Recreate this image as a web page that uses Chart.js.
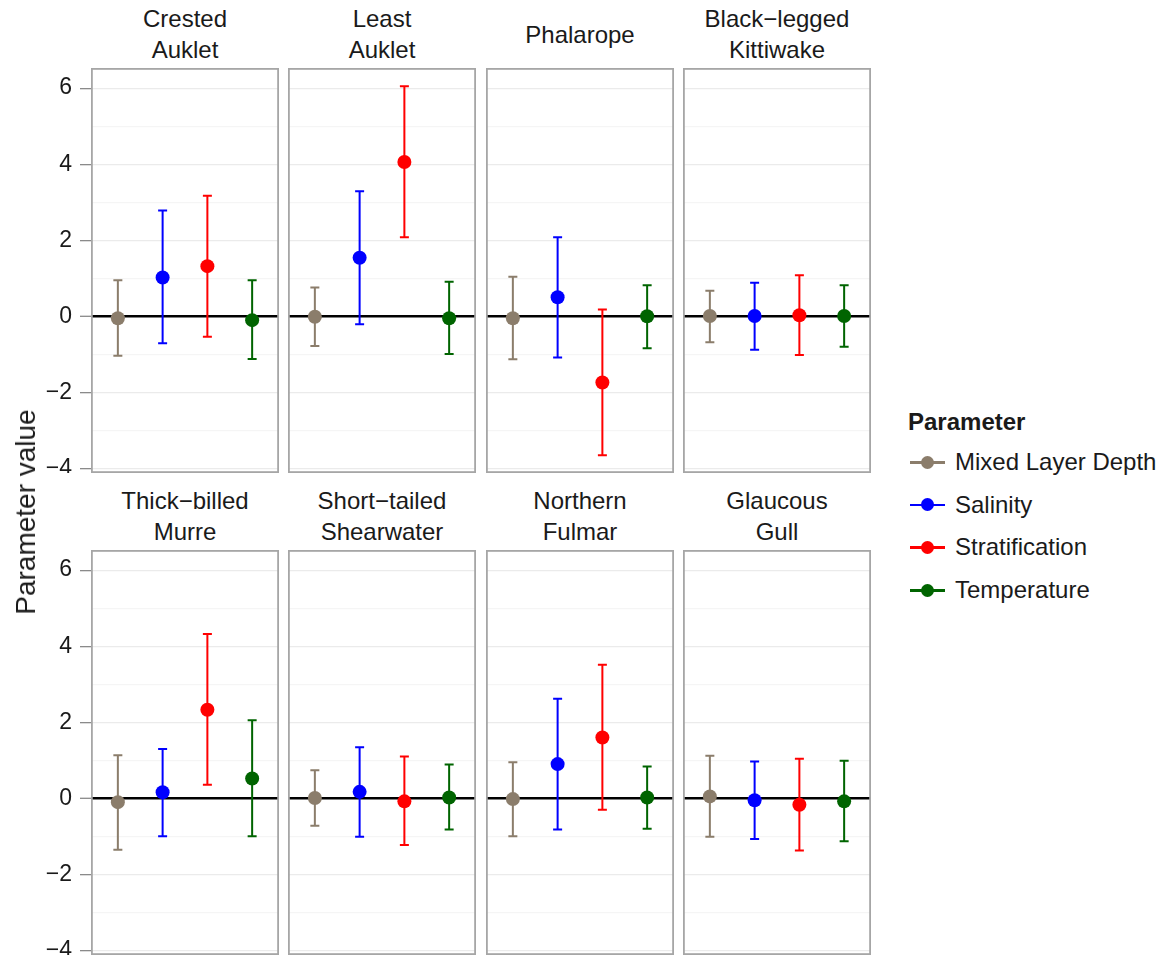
<!DOCTYPE html>
<html>
<head>
<meta charset="utf-8">
<script src="https://cdn.jsdelivr.net/npm/chart.js@4.4.1/dist/chart.umd.min.js"></script>
<style>
  body { margin: 0; background: #fff; font-family: "Liberation Sans", Arial, sans-serif; color: #1a1a1a; }
  #page { position: relative; width: 1164px; height: 961px; overflow: hidden; }
  .panel { position: absolute; }
  .strip { position: absolute; height: 62px; display: flex; align-items: center; justify-content: center;
           text-align: center; font-size: 24px; line-height: 31px; white-space: pre-line; }
  .ytitle { position: absolute; left: 26px; top: 512px; font-size: 28px; white-space: nowrap;
            transform: translate(-50%, -50%) rotate(-90deg); }
  .legend-title { position: absolute; left: 908px; top: 408px; font-size: 24px; font-weight: bold; }
  .legend-item { position: absolute; left: 910px; height: 28px; display: flex; align-items: center; font-size: 24px; }
  .key { position: relative; width: 35px; height: 28px; margin-right: 10px; }
  .key .ln { position: absolute; left: 0; right: 0; top: 13px; height: 2.5px; }
  .key .dot { position: absolute; left: 11px; top: 7.5px; width: 13px; height: 13px; border-radius: 50%; }
</style>
</head>
<body>
<div id="page"></div>
<script>
// facets, top row then bottom row
const speciesNames = [
  'Crested\nAuklet', 'Least\nAuklet', 'Phalarope', 'Black−legged\nKittiwake',
  'Thick−billed\nMurre', 'Short−tailed\nShearwater', 'Northern\nFulmar', 'Glaucous\nGull'
];
const parameterNames = ['Mixed Layer Depth', 'Salinity', 'Stratification', 'Temperature'];
const parameterColors = ['#8b7d6b', '#0000ff', '#ff0000', '#006400'];

// estimates with lower / upper interval per species
const mldMean  = [-0.05, -0.01, -0.05,  0.01, -0.10,  0.01, -0.02,  0.05];
const mldLower = [-1.04, -0.78, -1.13, -0.68, -1.35, -0.72, -1.00, -1.01];
const mldUpper = [ 0.95,  0.76,  1.04,  0.67,  1.13,  0.74,  0.95,  1.12];

const salMean  = [ 1.02,  1.54,  0.50,  0.01,  0.16,  0.17,  0.90, -0.05];
const salLower = [-0.71, -0.21, -1.08, -0.88, -1.00, -1.01, -0.82, -1.07];
const salUpper = [ 2.78,  3.29,  2.08,  0.88,  1.30,  1.34,  2.62,  0.97];

const stratMean  = [ 1.32,  4.06, -1.74,  0.03,  2.33, -0.08,  1.60, -0.17];
const stratLower = [-0.54,  2.08, -3.65, -1.02,  0.36, -1.23, -0.30, -1.37];
const stratUpper = [ 3.17,  6.05,  0.18,  1.08,  4.32,  1.10,  3.51,  1.04];

const tempMean  = [-0.10, -0.05,  0.00,  0.01,  0.52,  0.02,  0.02, -0.08];
const tempLower = [-1.12, -0.99, -0.84, -0.80, -1.00, -0.82, -0.80, -1.13];
const tempUpper = [ 0.95,  0.91,  0.82,  0.82,  2.05,  0.89,  0.84,  0.99];

const yTicks = [-4, -3, -2, -1, 0, 1, 2, 3, 4, 5, 6];
const yLabels = ['−4', '', '−2', '', '0', '', '2', '', '4', '', '6'];

const series = [
  { mean: mldMean, lower: mldLower, upper: mldUpper },
  { mean: salMean, lower: salLower, upper: salUpper },
  { mean: stratMean, lower: stratLower, upper: stratUpper },
  { mean: tempMean, lower: tempLower, upper: tempUpper }
];

// panel geometry
const colLeft = [91, 288, 486, 683];
const rowTop = [68, 550];
const plotW = 188, plotH = 405;

const page = document.getElementById('page');

// whiskers under the points, grey frame on top
const errorBars = {
  id: 'errorBars',
  beforeDatasetsDraw(chart) {
    const ctx = chart.ctx;
    const y = chart.scales.y;
    chart.data.datasets.forEach((ds, d) => {
      chart.getDatasetMeta(d).data.forEach((pt, j) => {
        const top = y.getPixelForValue(ds.upper[j]);
        const bot = y.getPixelForValue(ds.lower[j]);
        ctx.save();
        ctx.strokeStyle = ds.borderColor;
        ctx.lineWidth = 2;
        ctx.beginPath();
        ctx.moveTo(pt.x, top); ctx.lineTo(pt.x, bot);
        ctx.moveTo(pt.x - 4.5, top); ctx.lineTo(pt.x + 4.5, top);
        ctx.moveTo(pt.x - 4.5, bot); ctx.lineTo(pt.x + 4.5, bot);
        ctx.stroke();
        ctx.restore();
      });
    });
  },
  afterDraw(chart) {
    const { left, top, right, bottom } = chart.chartArea;
    const ctx = chart.ctx;
    ctx.save();
    ctx.strokeStyle = '#a6a6a6';
    ctx.lineWidth = 1.8;
    ctx.strokeRect(left + 0.9, top + 0.9, right - left - 1.8, bottom - top - 1.8);
    ctx.restore();
  }
};

speciesNames.forEach((name, i) => {
  const row = Math.floor(i / 4), col = i % 4;
  const first = col === 0;
  const left = first ? 0 : colLeft[col];
  const width = first ? colLeft[0] + plotW : plotW;

  const strip = document.createElement('div');
  strip.className = 'strip';
  strip.style.left = colLeft[col] + 'px';
  strip.style.width = plotW + 'px';
  strip.style.top = (rowTop[row] - 65) + 'px';
  strip.textContent = name;
  page.appendChild(strip);

  const canvas = document.createElement('canvas');
  canvas.className = 'panel';
  canvas.width = width;
  canvas.height = plotH;
  canvas.style.left = left + 'px';
  canvas.style.top = rowTop[row] + 'px';
  page.appendChild(canvas);

  new Chart(canvas, {
    type: 'scatter',
    data: {
      datasets: series.map((s, k) => ({
        label: parameterNames[k],
        data: [{ x: k + 1, y: s.mean[i] }],
        lower: [s.lower[i]],
        upper: [s.upper[i]],
        backgroundColor: parameterColors[k],
        borderColor: parameterColors[k],
        pointRadius: 7,
        pointBorderWidth: 0
      }))
    },
    options: {
      responsive: false,
      animation: false,
      events: [],
      layout: { padding: 0, autoPadding: false },
      plugins: { legend: { display: false }, tooltip: { enabled: false } },
      scales: {
        x: { type: 'linear', min: 0.4, max: 4.6, display: false },
        y: {
          type: 'linear',
          min: -4.12,
          max: 6.53,
          afterBuildTicks: (scale) => { scale.ticks = yTicks.map(v => ({ value: v })); },
          afterFit: (scale) => {
            scale.width = first ? colLeft[0] : 0;
            scale.paddingTop = 0;
            scale.paddingBottom = 0;
          },
          border: { display: false },
          grid: {
            color: (c) => c.tick.value === 0 ? '#000000' : (c.tick.value % 2 === 0 ? '#ebebeb' : '#f5f5f5'),
            lineWidth: (c) => c.tick.value === 0 ? 2.6 : 1.3,
            drawTicks: first,
            tickLength: 11,
            tickWidth: 1.3,
            tickColor: (c) => c.tick.value % 2 === 0 ? '#8a8a8a' : 'rgba(0,0,0,0)'
          },
          ticks: {
            display: first,
            padding: 8,
            color: '#1a1a1a',
            font: { family: '"Liberation Sans", Arial, sans-serif', size: 23 },
            callback: (v, idx) => yLabels[idx]
          }
        }
      }
    },
    plugins: [errorBars]
  });
});

// axis title
const yTitle = document.createElement('div');
yTitle.className = 'ytitle';
yTitle.textContent = 'Parameter value';
page.appendChild(yTitle);

// shared legend
const legendTitle = document.createElement('div');
legendTitle.className = 'legend-title';
legendTitle.textContent = 'Parameter';
page.appendChild(legendTitle);

parameterNames.forEach((p, k) => {
  const item = document.createElement('div');
  item.className = 'legend-item';
  item.style.top = (448 + k * 42.7) + 'px';
  item.innerHTML = '<div class="key"><div class="ln" style="background:' + parameterColors[k] +
    '"></div><div class="dot" style="background:' + parameterColors[k] + '"></div></div><span>' + p + '</span>';
  page.appendChild(item);
});
</script>
</body>
</html>
